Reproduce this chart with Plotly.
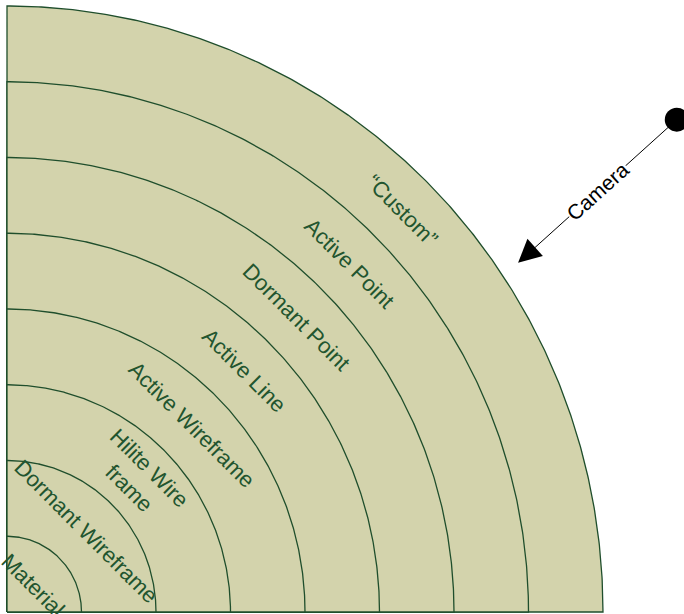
import numpy as np
import plotly.graph_objects as go

# Ring radii (inner -> outer), in ring units
ring_radii = [1, 2, 3, 4, 5, 6, 7, 8]
ring_labels = ["Material", "Dormant Wireframe", "Hilite Wire<br>frame", "Active Wireframe",
               "Active Line", "Dormant Point", "Active Point", "\u201cCustom\u201d"]
camera_label = "Camera"
camera_pos = (8.99, 6.50)
camera_target = (6.86, 4.61)

FILL = "#D3D3AC"
LINE = "#1F4E2C"
TEXT = "#22552F"

fig = go.Figure()

theta = np.linspace(0, np.pi / 2, 300)
for r in sorted(ring_radii, reverse=True):
    xs = np.concatenate([[0], r * np.cos(theta[::-1]), [r], [0]])
    ys = np.concatenate([[0], r * np.sin(theta[::-1]), [0], [0]])
    fig.add_trace(go.Scatter(x=xs, y=ys, mode="lines", fill="toself", fillcolor=FILL,
                             line=dict(color=LINE, width=1.3), hoverinfo="skip",
                             showlegend=False))

# camera dot
fig.add_trace(go.Scatter(x=[camera_pos[0]], y=[camera_pos[1]], mode="markers",
                         marker=dict(size=24, color="black"), cliponaxis=False,
                         hoverinfo="skip", showlegend=False))

annotations = []
for i, (r, lab) in enumerate(zip(ring_radii, ring_labels)):
    rm = r - 0.5
    annotations.append(dict(x=rm * np.cos(np.pi / 4), y=rm * np.sin(np.pi / 4), text=lab,
                            showarrow=False, textangle=45, xref="x", yref="y",
                            font=dict(family="Liberation Sans, Arial", size=22, color=TEXT),
                            xanchor="center", yanchor="middle", align="center"))

annotations.insert(0, dict(x=camera_target[0], y=camera_target[1], ax=camera_pos[0], ay=camera_pos[1],
                           xref="x", yref="y", axref="x", ayref="y", text="", showarrow=True,
                           arrowhead=2, arrowsize=4.6, arrowwidth=1, arrowcolor="black",
                           standoff=0, startstandoff=0))
mx = (camera_pos[0] + camera_target[0]) / 2
my = (camera_pos[1] + camera_target[1]) / 2
annotations.append(dict(x=mx, y=my, text=camera_label, showarrow=False, textangle=-42,
                        xref="x", yref="y", bgcolor="white", borderpad=0,
                        font=dict(family="Liberation Sans, Arial", size=21, color="black")))

fig.update_layout(
    width=684, height=614,
    margin=dict(l=0, r=0, t=0, b=0),
    paper_bgcolor="white", plot_bgcolor="white",
    xaxis=dict(range=[-7 / 74.5, 677 / 74.5], visible=False, fixedrange=True),
    yaxis=dict(range=[-2 / 75.75, 612 / 75.75], visible=False, fixedrange=True),
    annotations=annotations,
)

fig.write_html("out.html", config={"displayModeBar": False},
               post_script="document.body.style.margin='0px';document.body.style.overflow='hidden';")
